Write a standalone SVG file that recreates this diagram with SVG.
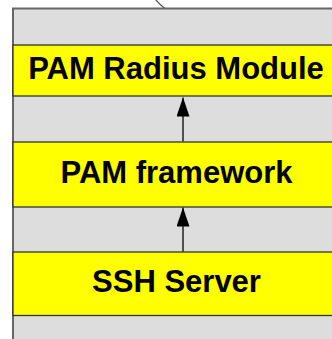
<svg xmlns="http://www.w3.org/2000/svg" width="332" height="339" viewBox="0 0 332 339">
<style>
.layer{fill:#ffff00;stroke:#333333;stroke-width:1.3}
.lbl{font-family:"Liberation Sans",Arial,sans-serif;font-weight:bold;font-size:31px;fill:#000000;text-anchor:middle}
.conn{stroke:#222222;stroke-width:1.5;fill:none}
</style>
<defs>
<marker id="ah" markerUnits="userSpaceOnUse" markerWidth="19" markerHeight="13" refX="19" refY="6.5" orient="auto" viewBox="0 0 19 13">
<path d="M0,0 L19,6.5 L0,13 Z" fill="#000000"/>
</marker>
</defs>
<g id="container">
<path d="M155,-1 Q160,5 165,8.5" fill="none" stroke="#555555" stroke-width="1.3"/>
<rect x="13" y="8.5" width="330" height="340" fill="#dddddd" stroke="#666666" stroke-width="2"/>
</g>
<g id="pam-radius-module">
<rect class="layer" x="13" y="45" width="330" height="51"/>
<text class="lbl" x="176" y="79">PAM Radius Module</text>
</g>
<g id="pam-framework">
<rect class="layer" x="13" y="142" width="330" height="65"/>
<text class="lbl" x="176.5" y="183">PAM framework</text>
</g>
<g id="ssh-server">
<rect class="layer" x="13" y="252" width="330" height="63.5"/>
<text class="lbl" x="176.5" y="292">SSH Server</text>
</g>
<g id="connectors">
<line class="conn" x1="183" y1="141.5" x2="183" y2="97.5" marker-end="url(#ah)"/>
<line class="conn" x1="183" y1="251.5" x2="183" y2="207.5" marker-end="url(#ah)"/>
</g>
</svg>
